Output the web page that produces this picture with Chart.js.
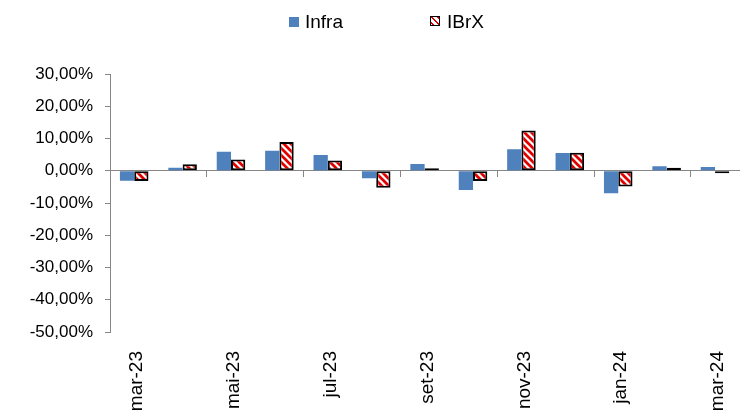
<!DOCTYPE html>
<html><head><meta charset="utf-8">
<script src="https://cdn.jsdelivr.net/npm/chart.js@4"></script>
<style>
html,body{margin:0;padding:0;background:#fff;overflow:hidden}
#wrap{position:relative;width:749px;height:412px}
canvas{display:block}
.lg{position:absolute;font:19px "Liberation Sans",Arial,sans-serif;color:#000;line-height:19px;white-space:nowrap}
.box{position:absolute;width:10px;height:10px}
</style></head><body>
<div id="wrap">
<canvas id="c" width="749" height="412"></canvas>
<div class="box" style="left:289px;top:17px;background:#4F81BD"></div>
<div class="lg" style="left:305px;top:12px">Infra</div>
<div class="box" style="left:430px;top:16px;width:8px;height:8px;border:1.5px solid #000;background:repeating-linear-gradient(45deg,#fff 0 1.2px,#e00000 1.2px 2.8px,#fff 2.8px 4.2px)"></div>
<div class="lg" style="left:447px;top:12px">IBrX</div>
</div>
<script>
const categories = ['mar-23','abr-23','mai-23','jun-23','jul-23','ago-23','set-23','out-23','nov-23','dez-23','jan-24','fev-24','mar-24'];
const infra = [-3.1, 0.9, 5.9, 6.2, 4.9, -2.3, 2.1, -6.0, 6.7, 5.5, -7.0, 1.4, 1.2];
const ibrx  = [-3.2, 2.0, 3.5, 8.9, 3.2, -5.3, 0.8, -3.2, 12.5, 5.6, -4.9, 0.9, -0.8];
const yMin = -50, yMax = 30, yStep = 10;

const GREY = '#868686';
const FAMILY = '"Liberation Sans", Arial, sans-serif';
Chart.defaults.font.family = FAMILY;

const canvas = document.getElementById('c');
const ctx = canvas.getContext('2d');

function makePattern(){
  const s = 7, c = document.createElement('canvas');
  c.width = s; c.height = s;
  const g = c.getContext('2d');
  g.fillStyle = '#fff'; g.fillRect(0,0,s,s);
  g.strokeStyle = '#e00000'; g.lineWidth = 2.7;
  for (const k of [-s, 0, s]) {
    g.beginPath(); g.moveTo(-1, -1 + k); g.lineTo(s + 1, s + 1 + k); g.stroke();
  }
  return ctx.createPattern(c, 'repeat');
}

new Chart(ctx, {
  type: 'bar',
  data: {
    labels: categories,
    datasets: [
      {label: 'Infra', data: infra, backgroundColor: '#4F81BD', borderWidth: 0},
      {label: 'IBrX', data: ibrx, backgroundColor: makePattern(), borderColor: '#000', borderWidth: 2, borderSkipped: false}
    ]
  },
  options: {
    responsive: false,
    animation: false,
    events: [],
    layout: {padding: {top: 74, right: 4, left: 0, bottom: 0}},
    plugins: {legend: {display: false}, tooltip: {enabled: false}},
    datasets: {bar: {categoryPercentage: 0.59, barPercentage: 1.0}},
    scales: {
      x: {
        position: 'bottom',
        grid: {display: false},
        border: {display: false},
        ticks: {
          autoSkip: false, minRotation: 90, maxRotation: 90, padding: 11, labelOffset: 3,
          color: '#000', font: {size: 19},
          callback: (v, i) => i % 2 === 0 ? categories[i] : ''
        },
        afterFit: (s) => { s.height = 80; }
      },
      x0: {
        type: 'category', axis: 'x', position: {y: 0},
        grid: {drawOnChartArea: false, drawTicks: true, tickLength: 6,
               tickColor: (c) => (c.index > 0 && c.index % 2 === 0) ? GREY : 'rgba(0,0,0,0)'},
        border: {display: true, color: GREY, width: 1},
        ticks: {display: false}
      },
      y: {
        min: yMin, max: yMax,
        ticks: {stepSize: yStep, padding: 12, color: '#000', font: {size: 17},
                callback: (v) => v.toFixed(2).replace('.', ',') + '%'},
        grid: {drawOnChartArea: false, tickLength: 5, color: GREY, tickColor: GREY},
        border: {color: GREY, width: 1},
        afterFit: (s) => { s.width = 110; }
      }
    }
  }
});
</script>
</body></html>
